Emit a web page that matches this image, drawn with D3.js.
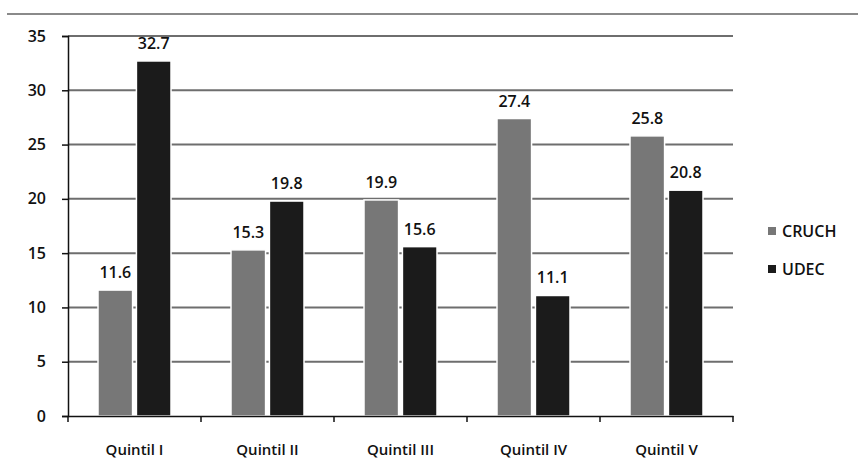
<!DOCTYPE html>
<html>
<head>
<meta charset="utf-8">
<script src="https://cdn.jsdelivr.net/npm/d3@7"></script>
<style>
  body { margin: 0; background: #fff; }
  text { font-family: "Open Sans", "DejaVu Sans", sans-serif; fill: #111; }
</style>
</head>
<body>
<script>
// chart data
const categories = ["Quintil I", "Quintil II", "Quintil III", "Quintil IV", "Quintil V"];
const series = ["CRUCH", "UDEC"];
const cruch = [11.6, 15.3, 19.9, 27.4, 25.8];
const udec = [32.7, 19.8, 15.6, 11.1, 20.8];
const yTicks = [0, 5, 10, 15, 20, 25, 30, 35];
const colors = ["#777777", "#1b1b1b"];

const width = 858, height = 461;
const margin = {left: 68, right: 125, top: 36, bottom: 45};

const svg = d3.select("body").append("svg")
  .attr("width", width)
  .attr("height", height);

// top rule
svg.append("line")
  .attr("x1", 7).attr("x2", width).attr("y1", 14).attr("y2", 14)
  .attr("stroke", "#8a8a8a").attr("stroke-width", 2);

const x = d3.scaleBand()
  .domain(categories)
  .range([margin.left, width - margin.right])
  .paddingInner(0).paddingOuter(0);

const x1 = d3.scaleBand()
  .domain(series)
  .range([30, x.bandwidth() - 30])
  .paddingInner(0.1);

const y = d3.scaleLinear()
  .domain([0, 35])
  .range([height - margin.bottom, margin.top]);

// gridlines
svg.append("g")
  .selectAll("line")
  .data(yTicks.filter(d => d > 0))
  .join("line")
  .attr("x1", margin.left).attr("x2", width - margin.right)
  .attr("y1", d => y(d)).attr("y2", d => y(d))
  .attr("stroke", "#6e6e6e").attr("stroke-width", 2);

// y axis
const yAxis = svg.append("g")
  .attr("transform", `translate(${margin.left},0)`)
  .call(d3.axisLeft(y).tickValues(yTicks).tickSize(6).tickPadding(16));
yAxis.select(".domain").attr("stroke", "#111").attr("stroke-width", 1.5);
yAxis.selectAll(".tick line").attr("stroke", "#111").attr("stroke-width", 1.5);
yAxis.selectAll("text").attr("font-size", 16).attr("font-weight", 600).style("fill", "#111");

// bars
const rows = categories.map((c, i) => ({cat: c, vals: [cruch[i], udec[i]]}));
const groups = svg.append("g")
  .selectAll("g")
  .data(rows)
  .join("g")
  .attr("transform", d => `translate(${x(d.cat)},0)`);

groups.selectAll("rect")
  .data(d => d.vals.map((v, j) => ({s: series[j], v: v, j: j})))
  .join("rect")
  .attr("x", d => x1(d.s))
  .attr("width", x1.bandwidth())
  .attr("y", d => y(d.v))
  .attr("height", d => y(0) - y(d.v))
  .attr("fill", d => colors[d.j])
  .attr("stroke", "#fff")
  .attr("stroke-width", 1.5);

groups.selectAll(".val")
  .data(d => d.vals.map((v, j) => ({s: series[j], v: v, j: j})))
  .join("text")
  .attr("class", "val")
  .attr("x", d => x1(d.s) + x1.bandwidth() / 2)
  .attr("y", d => y(d.v) - 12)
  .attr("text-anchor", "middle")
  .attr("font-size", 16)
  .attr("font-weight", 600)
  .text(d => d.v.toFixed(1));

// x axis
const xAxis = svg.append("g")
  .attr("transform", `translate(0,${y(0)})`)
  .call(d3.axisBottom(x).tickSize(0).tickPadding(28));
xAxis.select(".domain").attr("stroke", "#111").attr("stroke-width", 1.5);
xAxis.selectAll("text").attr("font-size", 15).attr("font-weight", 600).style("fill", "#111");

// category boundary ticks
svg.append("g")
  .selectAll("line")
  .data(d3.range(categories.length + 1))
  .join("line")
  .attr("x1", i => margin.left + i * x.bandwidth())
  .attr("x2", i => margin.left + i * x.bandwidth())
  .attr("y1", y(0)).attr("y2", y(0) + 6)
  .attr("stroke", "#111").attr("stroke-width", 1.5);

// legend
const legend = svg.append("g")
  .selectAll("g")
  .data(series)
  .join("g")
  .attr("transform", (d, i) => `translate(768,${227 + i * 38})`);
legend.append("rect")
  .attr("width", 8).attr("height", 8)
  .attr("fill", (d, i) => colors[i]);
legend.append("text")
  .attr("x", 14).attr("y", 10)
  .attr("font-size", 16)
  .attr("font-weight", 600)
  .text(d => d);
</script>
</body>
</html>
